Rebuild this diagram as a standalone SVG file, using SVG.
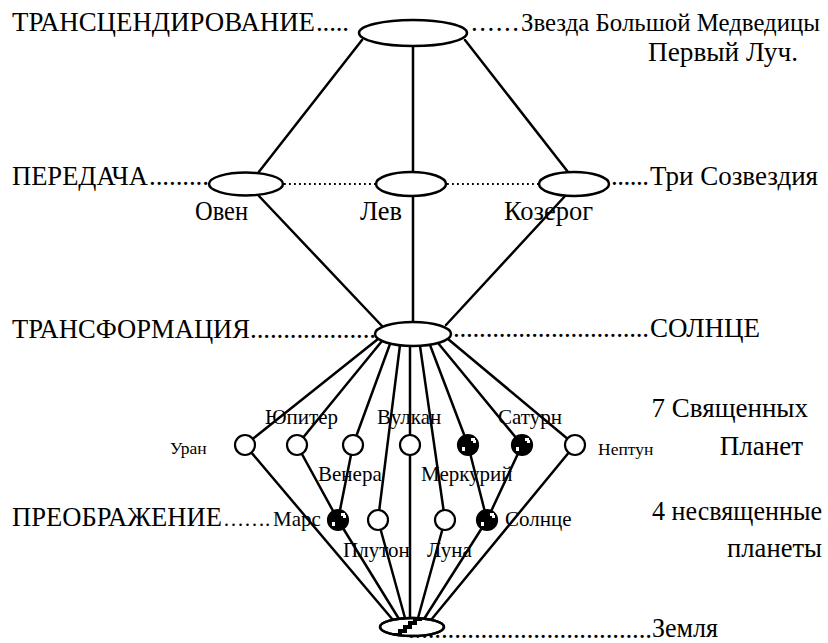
<svg xmlns="http://www.w3.org/2000/svg" width="828" height="643" viewBox="0 0 828 643">
<style>
.big{font-family:'Liberation Serif','DejaVu Serif',serif;font-size:27px;fill:#000}
.sm{font-family:'Liberation Serif','DejaVu Serif',serif;font-size:21px;fill:#000}
.xs{font-family:'Liberation Serif','DejaVu Serif',serif;font-size:17.5px;fill:#000}
.ln{stroke:#000;stroke-width:2.5;fill:none;stroke-linecap:round}
.dot{stroke:#000;stroke-width:1.8;stroke-dasharray:1.8 3.2;fill:none}
.el{fill:#fff;stroke:#000;stroke-width:2.5}
.pl{fill:#fff;stroke:#000;stroke-width:2.2}
</style>
<defs>
<g id="fp"><circle r="10" fill="#000" stroke="#000" stroke-width="2.2"/><path d="M3,-7 h4 v2 h1 v3 h-3 v-2 h-2z M-6,2 h3 v4 h-3z" fill="#fff"/></g>
<clipPath id="earthClip"><ellipse cx="412" cy="627" rx="32" ry="9"/></clipPath>
</defs>
<rect width="828" height="643" fill="#fff"/>

<g id="labels">
<text class="big" x="12" y="31" textLength="303" lengthAdjust="spacingAndGlyphs">ТРАНСЦЕНДИРОВАНИЕ</text>
<text class="big" x="316" y="31" textLength="33" lengthAdjust="spacing">.....</text>
<text class="big" x="471" y="31" textLength="48" lengthAdjust="spacing">......</text>
<text class="big" x="521" y="31" style="font-size:25.5px" textLength="299" lengthAdjust="spacingAndGlyphs">Звезда Большой Медведицы</text>
<text class="big" x="648" y="61" textLength="150" lengthAdjust="spacingAndGlyphs">Первый Луч.</text>
<text class="big" x="12" y="185" textLength="136" lengthAdjust="spacingAndGlyphs">ПЕРЕДАЧА</text>
<text class="big" x="149" y="185" textLength="60" lengthAdjust="spacing">.........</text>
<text class="big" x="611" y="185" textLength="38" lengthAdjust="spacing">......</text>
<text class="big" x="650" y="185" textLength="168" lengthAdjust="spacingAndGlyphs">Три Созвездия</text>
<text class="big" x="195" y="220" textLength="53" lengthAdjust="spacingAndGlyphs">Овен</text>
<text class="big" x="360" y="220" textLength="42" lengthAdjust="spacingAndGlyphs">Лев</text>
<text class="big" x="504" y="220" textLength="89" lengthAdjust="spacingAndGlyphs">Козерог</text>
<text class="big" x="12" y="338" textLength="238" lengthAdjust="spacingAndGlyphs">ТРАНСФОРМАЦИЯ</text>
<text class="big" x="250" y="338" textLength="126" lengthAdjust="spacing">...................</text>
<text class="big" x="453" y="337" textLength="196" lengthAdjust="spacing">..............................</text>
<text class="big" x="650" y="337" textLength="110" lengthAdjust="spacingAndGlyphs">СОЛНЦЕ</text>
<text class="big" x="808" y="417" text-anchor="end">7 Священных</text>
<text class="big" x="803" y="455" text-anchor="end">Планет</text>
<text class="big" x="12" y="526" textLength="210" lengthAdjust="spacingAndGlyphs">ПРЕОБРАЖЕНИЕ</text>
<text class="big" x="223" y="526" style="font-size:21px">…….</text>
<text class="big" x="652" y="520" textLength="170" lengthAdjust="spacingAndGlyphs">4 несвященные</text>
<text class="big" x="727" y="557" textLength="95" lengthAdjust="spacingAndGlyphs">планеты</text>
<text class="big" x="408" y="638" textLength="244" lengthAdjust="spacing">.....................................</text>
<text class="big" x="652" y="637" textLength="66" lengthAdjust="spacingAndGlyphs">Земля</text>
<text class="sm" x="265" y="424">Юпитер</text>
<text class="sm" x="377" y="424">Вулкан</text>
<text class="sm" x="498" y="424">Сатурн</text>
<text class="xs" x="170" y="454">Уран</text>
<text class="xs" x="598" y="455">Нептун</text>
<text class="sm" x="318" y="481">Венера</text>
<text class="sm" x="421" y="481">Меркурий</text>
<text class="sm" x="273" y="526">Марс</text>
<text class="sm" x="505" y="526">Солнце</text>
<text class="sm" x="343" y="557">Плутон</text>
<text class="sm" x="427" y="557">Луна</text>
</g>

<g id="connectors">
<path class="dot" d="M284,184 L376,184 M447,184 L539,184"/>
<path class="ln" d="M362,40 L258,173 M413,46 L413,172 M465,40 L568,172"/>
<path class="ln" d="M258,195 L382,326 M413,196 L413,322 M566,195 L446,325"/>
<path class="ln" d="M378,339 L245,445 M382,341 L297,445 M390,344 L353,445 M400,345 L378,520 M410,346 L410,445 M420,346 L445,520 M430,345 L468,445 M438,343 L522,445 M448,339 L575,445"/>
<path class="ln" d="M245,445 L393,620 M297,445 L338,520 M353,445 L338,520 M410,445 L410,618 M468,445 L487,520 M522,445 L487,520 M575,445 L431,620 M338,520 L399,619 M378,520 L405,618 M445,520 L418,618 M487,520 L424,619"/>
</g>

<g id="node-top"><ellipse class="el" cx="413" cy="33" rx="54" ry="13"/></g>
<g id="node-oven"><ellipse class="el" cx="246" cy="184" rx="37" ry="11.5"/></g>
<g id="node-lev"><ellipse class="el" cx="411" cy="184" rx="35" ry="12"/></g>
<g id="node-kozerog"><ellipse class="el" cx="574" cy="184" rx="35" ry="12"/></g>
<g id="node-sun"><ellipse class="el" cx="413" cy="334" rx="38" ry="12"/></g>

<g id="node-uran"><circle class="pl" cx="245" cy="445" r="10"/></g>
<g id="node-jupiter"><circle class="pl" cx="297" cy="445" r="10"/></g>
<g id="node-venera"><circle class="pl" cx="353" cy="445" r="10"/></g>
<g id="node-vulkan"><circle class="pl" cx="410" cy="445" r="10"/></g>
<g id="node-merkury"><use href="#fp" x="468" y="445"/></g>
<g id="node-saturn"><use href="#fp" x="522" y="445"/></g>
<g id="node-neptun"><circle class="pl" cx="575" cy="445" r="10"/></g>

<g id="node-mars"><use href="#fp" x="338" y="520"/></g>
<g id="node-pluton"><circle class="pl" cx="378" cy="520" r="10"/></g>
<g id="node-luna"><circle class="pl" cx="445" cy="520" r="10"/></g>
<g id="node-solnce"><use href="#fp" x="487" y="520"/></g>

<g id="node-earth">
<ellipse class="el" cx="412" cy="627" rx="32" ry="9"/>
<g clip-path="url(#earthClip)">
<polygon fill="#000" points="393,637 393,633 398,633 398,629 403,629 403,625 408,625 408,621 413,621 413,617 422,617 422,621 417,621 417,625 412,625 412,629 407,629 407,633 402,633 402,637"/>
</g>
<ellipse cx="412" cy="627" rx="32" ry="9" fill="none" stroke="#000" stroke-width="2.5"/>
</g>
</svg>
